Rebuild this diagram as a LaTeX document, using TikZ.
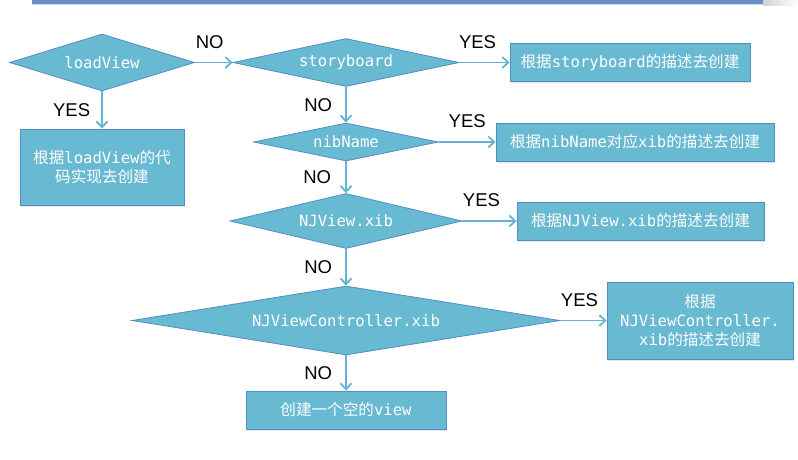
\documentclass[tikz,border=0pt]{standalone}
\usepackage{fontspec}
\setmainfont{Liberation Sans}
\newfontfamily\codefont{DejaVu Sans Mono}
\newfontfamily\cjk{Noto Sans CJK SC}
\newcommand{\zh}[1]{{\cjk #1}}
\usepackage{tikz}
\usetikzlibrary{shapes.geometric,arrows.meta,positioning,shadows}
\definecolor{shapefill}{RGB}{104,185,210}
\definecolor{shapeline}{RGB}{84,141,196}
\definecolor{arrowblue}{RGB}{100,178,212}
\definecolor{barblue}{RGB}{104,142,200}

\begin{document}
\begin{tikzpicture}[
  x=1pt, y=-1pt,
  box/.style={rectangle, draw=shapeline, fill=shapefill, line width=0.8pt, text=white, align=center, inner sep=0pt, font=\codefont\fontsize{15.6}{19}\selectfont, drop shadow={opacity=0.2, shadow xshift=1pt, shadow yshift=-2pt}},
  decision/.style={diamond, draw=shapeline, fill=shapefill, line width=0.8pt, text=white, inner sep=0pt, font=\codefont\fontsize{15.6}{19}\selectfont},
  arr/.style={arrowblue, line width=1.8pt, -{Straight Barb[length=6pt,width=11pt]}},
  lbl/.style={font=\fontsize{18.5}{20}\selectfont, inner sep=0pt, text=black}
]
\useasboundingbox (0,0) rectangle (798,460);
% title bar
\shade[left color=black!18, right color=white] (763,0) rectangle (798,6);
\draw[barblue, line width=3.5pt] (32,2) -- (763,2);
\draw[barblue!30, line width=1pt] (32,5) -- (763,5);

\node[decision, aspect=3.25, minimum width=185pt, minimum height=57pt] (loadview) at (102,62.5) {loadView};
\node[decision, aspect=4.7, minimum width=226pt, minimum height=48pt] (storyboard) at (346,62.5) {storyboard};
\node[box, minimum width=240pt, minimum height=38pt] (sbbox) at (630,62.5) {\zh{根据}storyboard\zh{的描述去创建}};
\node[box, minimum width=164pt, minimum height=76pt] (lvbox) at (102,167) {\zh{根据}loadView\zh{的代}\\\zh{码实现去创建}};
\node[decision, aspect=4.87, minimum width=185pt, minimum height=38pt] (nibname) at (346,142) {nibName};
\node[box, minimum width=278pt, minimum height=38pt] (nibbox) at (635,142) {\zh{根据}nibName\zh{对应}xib\zh{的描述去创建}};
\node[decision, aspect=4.2, minimum width=232pt, minimum height=55pt] (njview) at (346,221) {NJView.xib};
\node[box, minimum width=247pt, minimum height=38pt] (njvbox) at (640.5,221) {\zh{根据}NJView.xib\zh{的描述去创建}};
\node[decision, aspect=6.2, minimum width=428pt, minimum height=69pt] (njvc) at (346,320.5) {NJViewController.xib};
\node[box, minimum width=186pt, minimum height=77pt] (njvcbox) at (700,320.5) {\zh{根据}\\NJViewController.\\xib\zh{的描述去创建}};
\node[box, minimum width=200pt, minimum height=38pt] (emptybox) at (346,410) {\zh{创建一个空的}view};

\draw[arr] (loadview) -- node[lbl, above=13pt, xshift=-4pt]{NO} (storyboard);
\draw[arr] (loadview) -- node[lbl, left=11pt]{YES} (lvbox);
\draw[arr] (storyboard) -- node[lbl, above=13pt, xshift=-7pt]{YES} (sbbox);
\draw[arr] (storyboard) -- node[lbl, left=13pt]{NO} (nibname);
\draw[arr] (nibname) -- node[lbl, above=13pt]{YES} (nibbox);
\draw[arr] (nibname) -- node[lbl, left=14pt]{NO} (njview);
\draw[arr] (njview) -- node[lbl, above=13pt, xshift=-8pt]{YES} (njvbox);
\draw[arr] (njview) -- node[lbl, left=13pt]{NO} (njvc);
\draw[arr] (njvc) -- node[lbl, above=13pt, xshift=-4pt]{YES} (njvcbox);
\draw[arr] (njvc) -- node[lbl, left=13pt]{NO} (emptybox);
\end{tikzpicture}
\end{document}
